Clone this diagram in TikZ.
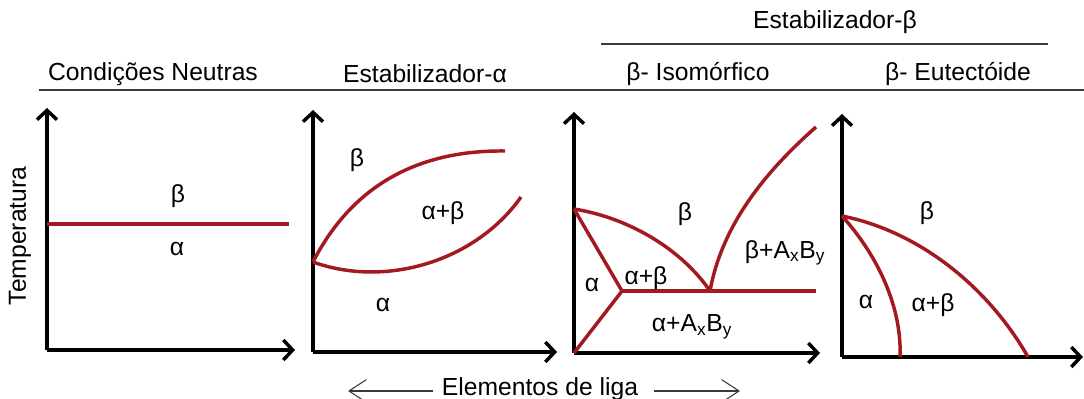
\documentclass[tikz,border=0pt]{standalone}
\usepackage{fontspec}
\setmainfont{Liberation Sans}
\usetikzlibrary{arrows.meta}
\definecolor{phred}{HTML}{A3191F}
\definecolor{rulegray}{HTML}{3A3A3A}
\begin{document}
\begin{tikzpicture}[x=0.75pt,y=-0.75pt,
  lbl/.style={inner sep=0pt,font=\fontsize{18.5}{22}\selectfont},
  axis/.style={line width=3pt,-{Straight Barb[length=7pt,width=15pt,line width=2.6pt]}},
  phase/.style={line width=2.6pt,color=phred},
  rulel/.style={line width=1.4pt,color=rulegray},
  thinarrow/.style={line width=0.8pt,color=rulegray,-{Straight Barb[length=13pt,width=17pt,line width=0.8pt]}}]
\useasboundingbox (0,0) rectangle (1084,399);
% titles
\node[lbl] (tb) at (835,22) {Estabilizador-β};
\node[lbl] (t1) at (153,74) {Condições Neutras};
\node[lbl] (t2) at (425,74) {Estabilizador-α};
\node[lbl] (t3) at (698,74) {β- Isomórfico};
\node[lbl] (t4) at (958,74) {β- Eutectóide};
\coordinate (ra) at (601,44); \coordinate (rb) at (1048,44);
\draw[rulel] (ra) -- (rb);
\coordinate (rc) at (39,90); \coordinate (rd) at (1084,90);
\draw[rulel] (rc) -- (rd);
% y label
\node[lbl,rotate=90] (temp) at (20,236) {Temperatura};
% panel 1
\coordinate (o1) at (47,350); \coordinate (y1) at (47,108); \coordinate (x1) at (295,350);
\draw[axis] (o1) -- (y1);
\draw[axis] (o1) -- (x1);
\coordinate (p1a) at (47,224); \coordinate (p1b) at (289,224);
\draw[phase] (p1a) -- (p1b);
\node[lbl] (b1) at (178,196) {β};
\node[lbl] (a1) at (177,249) {α};
% panel 2
\coordinate (o2) at (313,352); \coordinate (y2) at (313,110); \coordinate (x2) at (557,352);
\draw[axis] (o2) -- (y2);
\draw[axis] (o2) -- (x2);
\coordinate (m2) at (313,262); \coordinate (u2) at (505,151); \coordinate (l2) at (521,197);
\draw[phase] (m2) .. controls (355,180) and (425,150) .. (u2);
\draw[phase] (m2) .. controls (385,288) and (475,262) .. (l2);
\node[lbl] (b2) at (357,160) {β};
\node[lbl] (ab2) at (443,213) {α+β};
\node[lbl] (a2) at (383,305) {α};
% panel 3
\coordinate (o3) at (574,353); \coordinate (y3) at (574,112); \coordinate (x3) at (820,353);
\draw[axis] (o3) -- (y3);
\draw[axis] (o3) -- (x3);
\coordinate (t3p) at (574,209); \coordinate (k3) at (622,291); \coordinate (e3) at (710,291);
\coordinate (h3) at (816,291); \coordinate (u3) at (816,127);
\draw[phase] (t3p) .. controls (630,218) and (682,250) .. (e3);
\draw[phase,line join=round] (t3p) -- (k3) -- (o3);
\draw[phase] (k3) -- (h3);
\draw[phase] (e3) .. controls (722,225) and (765,172) .. (u3);
\node[lbl] (b3) at (685,214) {β};
\node[lbl] (bab3) at (785,253) {β+A\textsubscript{x}B\textsubscript{y}};
\node[lbl] (a3) at (592,285) {α};
\node[lbl] (ab3) at (646,278) {α+β};
\node[lbl] (aab3) at (692,327) {α+A\textsubscript{x}B\textsubscript{y}};
% panel 4
\coordinate (o4) at (842,357); \coordinate (y4) at (842,114); \coordinate (x4) at (1083,357);
\draw[axis] (o4) -- (y4);
\draw[axis] (o4) -- (x4);
\coordinate (t4p) at (842,216); \coordinate (i4) at (900,357); \coordinate (f4) at (1028,357);
\draw[phase] (t4p) .. controls (922,232) and (990,290) .. (f4);
\draw[phase] (t4p) .. controls (880,258) and (902,310) .. (i4);
\node[lbl] (b4) at (927,213) {β};
\node[lbl] (a4) at (866,302) {α};
\node[lbl] (ab4) at (933,305) {α+β};
% bottom
\node[lbl] (el) at (540,389) {Elementos de liga};
\coordinate (la) at (433,391); \coordinate (lb) at (348,391);
\coordinate (lc) at (654,391); \coordinate (ld) at (740,391);
\draw[thinarrow] (la) -- (lb);
\draw[thinarrow] (lc) -- (ld);
\end{tikzpicture}
\end{document}
